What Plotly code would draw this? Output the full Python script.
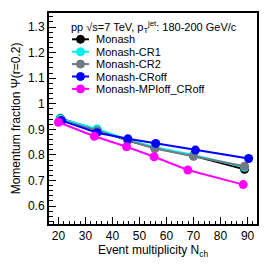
import plotly.graph_objects as go

# ---- data ----
series_names = ["Monash", "Monash-CR1", "Monash-CR2", "Monash-CRoff", "Monash-MPIoff_CRoff"]
series_colors = ["#000000", "#00f0f0", "#6f7a84", "#0000ff", "#ff00ff"]

x_monash = [20.7, 34.3, 45.7, 55.7, 70.0, 88.9]
y_monash = [0.943, 0.899, 0.856, 0.827, 0.797, 0.744]

x_cr1 = [20.7, 34.3, 45.7, 55.7, 70.0, 88.9]
y_cr1 = [0.942, 0.902, 0.860, 0.830, 0.800, 0.752]

x_cr2 = [20.7, 34.3, 45.7, 55.7, 70.0, 88.9]
y_cr2 = [0.936, 0.895, 0.857, 0.825, 0.795, 0.756]

x_croff = [21.2, 34.3, 45.7, 56.0, 70.7, 90.4]
y_croff = [0.934, 0.887, 0.863, 0.845, 0.819, 0.786]

x_mpioff = [20.0, 33.3, 45.2, 55.4, 67.9, 88.4]
y_mpioff = [0.928, 0.873, 0.832, 0.793, 0.741, 0.684]

xs = [x_monash, x_cr1, x_cr2, x_croff, x_mpioff]
ys = [y_monash, y_cr1, y_cr2, y_croff, y_mpioff]

x_tickvals = [20, 30, 40, 50, 60, 70, 80, 90]
x_ticktext = ["20", "30", "40", "50", "60", "70", "80", "90"]
y_tickvals = [0.6, 0.7, 0.8, 0.9, 1.0, 1.1, 1.2, 1.3]
y_ticktext = ["0.6", "0.7", "0.8", "0.9", "1", "1.1", "1.2", "1.3"]

header_text = "pp √s=7 TeV, p<sub>T</sub><sup>jet</sup>: 180-200 GeV/c"

# ---- layout constants (pixels) ----
W, H = 271, 273
L, R, T, B = 49, 14, 13, 49
PW, PH = W - L - R, H - T - B
FONT = "Liberation Sans, Arial, Helvetica, sans-serif"


def px_x(p):
    return (p - L) / PW


def px_y(p):
    return (H - B - p) / PH


fig = go.Figure()
for name, col, xv, yv in zip(series_names, series_colors, xs, ys):
    fig.add_trace(go.Scatter(
        x=xv, y=yv, mode="lines+markers", name=name,
        line=dict(color=col, width=2),
        marker=dict(color=col, size=9, symbol="circle"),
        showlegend=False,
    ))

# ---- manual legend (ROOT-like compact) ----
annotations = [dict(
    x=px_x(69), y=px_y(27), xref="paper", yref="paper",
    text=header_text, showarrow=False, xanchor="left", yanchor="middle",
    font=dict(family=FONT, size=11, color="black"),
)]
shapes = []
entry_y = [39.3, 51.7, 64.1, 76.5, 88.9]
for name, col, ey in zip(series_names, series_colors, entry_y):
    shapes.append(dict(type="line", xref="paper", yref="paper",
                       x0=px_x(72), x1=px_x(89), y0=px_y(ey), y1=px_y(ey),
                       line=dict(color=col, width=2)))
    shapes.append(dict(type="circle", xref="paper", yref="paper",
                       xsizemode="pixel", ysizemode="pixel",
                       xanchor=px_x(80.5), yanchor=px_y(ey),
                       x0=-4, x1=4, y0=-4, y1=4,
                       fillcolor=col, line=dict(color=col, width=1)))
    annotations.append(dict(
        x=px_x(94), y=px_y(ey), xref="paper", yref="paper",
        text=name, showarrow=False, xanchor="left", yanchor="middle",
        font=dict(family=FONT, size=11, color="black"),
    ))

axis_common = dict(
    showline=True, linecolor="black", linewidth=2, mirror=True,
    ticks="inside", ticklen=7, tickwidth=1, tickcolor="black",
    showgrid=False, zeroline=False,
    tickfont=dict(family=FONT, size=12, color="black"),
)

fig.update_layout(
    width=W, height=H,
    margin=dict(l=L, r=R, t=T, b=B),
    paper_bgcolor="white", plot_bgcolor="white",
    font=dict(family=FONT, size=12, color="black"),
    xaxis=dict(
        range=[16.5, 93.5],
        tickvals=x_tickvals, ticktext=x_ticktext,
        minor=dict(dtick=2, ticks="inside", ticklen=3.5, tickcolor="black", tickwidth=1),
        title=dict(text="Event multiplicity N<sub>ch</sub>",
                   font=dict(family=FONT, size=12), standoff=2),
        **axis_common,
    ),
    yaxis=dict(
        range=[0.53, 1.355],
        tickvals=y_tickvals, ticktext=y_ticktext,
        minor=dict(dtick=0.02, ticks="inside", ticklen=3.5, tickcolor="black", tickwidth=1),
        title=dict(text="Momentum fraction Ψ(r=0.2)",
                   font=dict(family=FONT, size=12), standoff=5),
        **axis_common,
    ),
    annotations=annotations,
    shapes=shapes,
)

fig.write_html("out.html")
